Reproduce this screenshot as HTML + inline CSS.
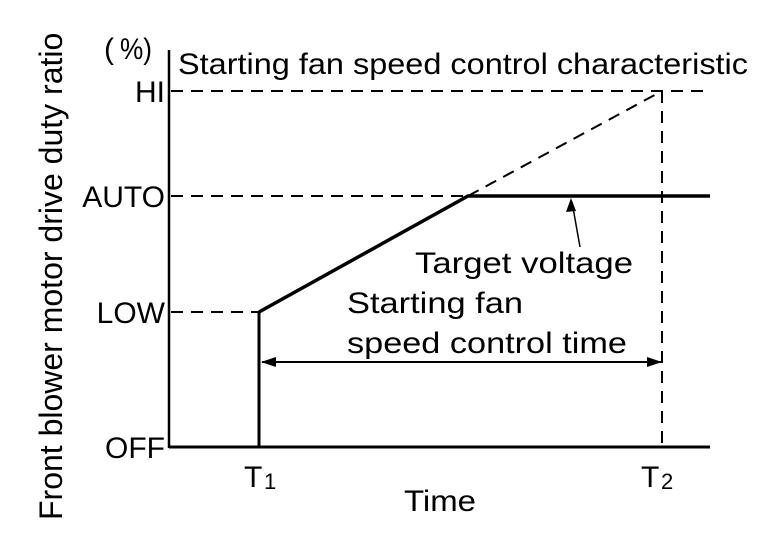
<!DOCTYPE html>
<html><head><meta charset="utf-8"><style>
body{margin:0;background:#fff;}
svg{display:block;font-family:"Liberation Sans",sans-serif;}
</style></head><body>
<svg width="768" height="544" viewBox="0 0 768 544">
<rect width="768" height="544" fill="#fff"/>
<g stroke="#000" fill="none">
<line x1="169" y1="50" x2="169" y2="448" stroke-width="2.5"/>
<line x1="169" y1="447" x2="710" y2="447" stroke-width="3"/>
<g stroke-width="2" stroke-dasharray="12,8">
<line x1="171" y1="91" x2="710" y2="91"/>
<line x1="171" y1="196" x2="468" y2="196"/>
<line x1="171" y1="312" x2="259" y2="312"/>
<line x1="468" y1="196" x2="662" y2="91"/>
<line x1="662" y1="91" x2="662" y2="447"/>
</g>
<line x1="259" y1="312" x2="259" y2="447" stroke-width="3"/>
<polyline points="259,312 468,196 710,196" stroke-width="3.5"/>
<line x1="262" y1="362" x2="662" y2="362" stroke-width="2"/>
<line x1="580" y1="247" x2="572" y2="202" stroke-width="1.5"/>
</g>
<g fill="#000">
<polygon points="261,362 276,357 276,367"/>
<polygon points="662,362 647,357 647,367"/>
<polygon points="571,198 566,212 576,211"/>
</g>
<g font-size="30" fill="#000">
<text x="178" y="74" textLength="570" lengthAdjust="spacingAndGlyphs">Starting fan speed control characteristic</text>
<text x="104" y="59">(</text><text x="120" y="59" textLength="32" lengthAdjust="spacingAndGlyphs">%)</text>
<text x="165" y="102" text-anchor="end">HI</text>
<text x="165" y="207" text-anchor="end">AUTO</text>
<text x="165" y="323" text-anchor="end">LOW</text>
<text x="165" y="458" text-anchor="end">OFF</text>
<text x="415" y="273" textLength="218" lengthAdjust="spacingAndGlyphs">Target voltage</text>
<text x="347" y="313" textLength="176" lengthAdjust="spacingAndGlyphs">Starting fan</text>
<text x="347" y="353" textLength="280" lengthAdjust="spacingAndGlyphs">speed control time</text>
<text x="244" y="487">T</text><text x="264" y="489" font-size="22">1</text>
<text x="641" y="487">T</text><text x="661" y="489" font-size="22">2</text>
<text x="404" y="511" textLength="72" lengthAdjust="spacingAndGlyphs">Time</text>
</g>
<g transform="translate(62,520) rotate(-90)"><text x="0" y="0" font-size="32" fill="#000">Front blower motor drive duty ratio</text></g>
</svg>
</body></html>
